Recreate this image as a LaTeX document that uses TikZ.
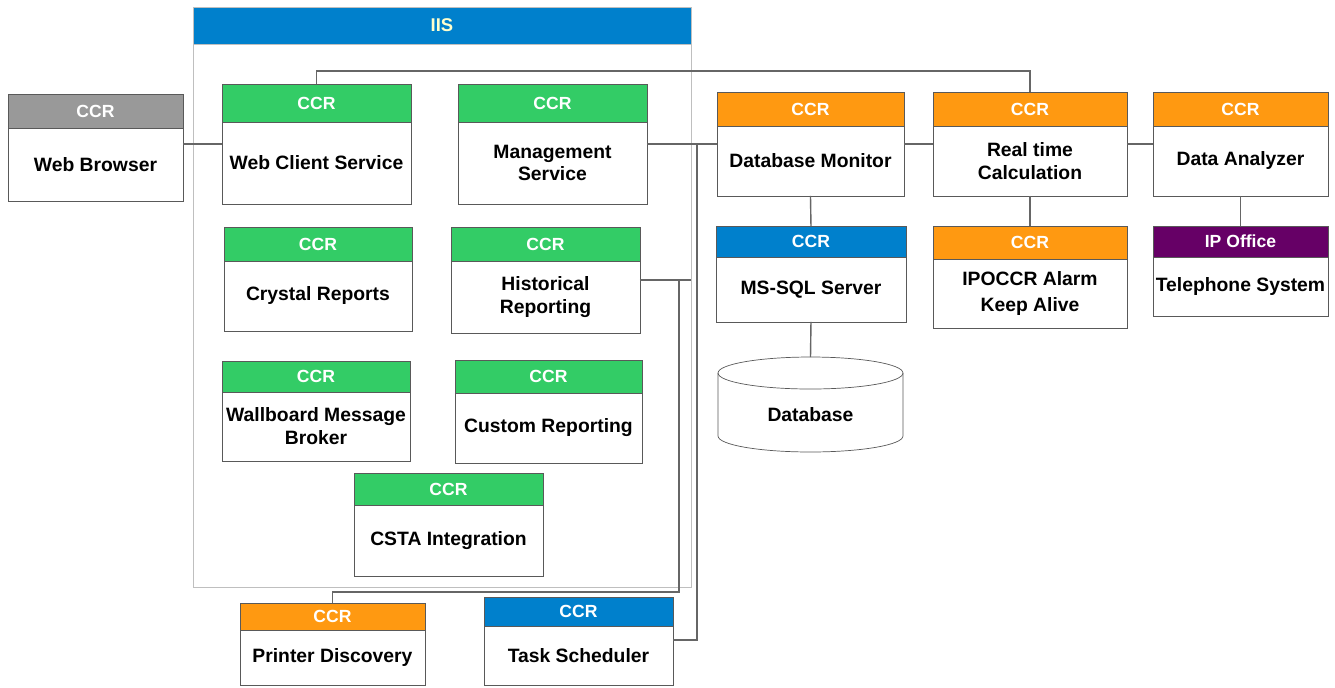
\documentclass[tikz,border=0pt]{standalone}
\usepackage{fontspec}
\setmainfont{Liberation Sans}
\usetikzlibrary{positioning}
\definecolor{ccrgreen}{HTML}{33CC66}
\definecolor{ccrorange}{HTML}{FF9911}
\definecolor{ccrblue}{HTML}{0080CC}
\definecolor{ccrgray}{HTML}{999999}
\definecolor{ccrpurple}{HTML}{660066}
\definecolor{boxgray}{HTML}{595959}
\definecolor{iisgray}{HTML}{BFBFBF}
\definecolor{linkgray}{HTML}{666666}
\definecolor{iistext}{HTML}{FFFFCC}

\begin{document}
\begin{tikzpicture}[
  x=0.02cm, y=-0.02cm,
  head/.style={rectangle, draw=boxgray, text=white, anchor=north west, inner sep=0pt, outer sep=0pt,
    font=\bfseries\fontsize{10}{12}\selectfont},
  body/.style={rectangle, draw=boxgray, fill=white, align=center, inner sep=0pt, outer sep=0pt,
    font=\bfseries\fontsize{11}{13}\selectfont},
  link/.style={draw=linkgray, line width=0.8pt}
]
\useasboundingbox (0,0) rectangle (1335,687);

% IIS frame
\node[head, draw=iisgray, fill=ccrblue, text=iistext, minimum width=9.96cm, minimum height=0.74cm,
  font=\bfseries\fontsize{10.5}{12}\selectfont] (iishead) at (193,7) {IIS};
\node[body, draw=iisgray, minimum width=9.96cm, minimum height=10.86cm, below=0pt of iishead] (iis) {};

% browser
\node[head, fill=ccrgray, minimum width=3.5cm, minimum height=0.68cm] (wbhead) at (8,94) {CCR};
\node[body, minimum width=3.5cm, minimum height=1.46cm, below=0pt of wbhead] (wb) {Web Browser};

% services inside IIS
\node[head, fill=ccrgreen, minimum width=3.78cm, minimum height=0.76cm] (wcshead) at (222,84) {CCR};
\node[body, minimum width=3.78cm, minimum height=1.64cm, below=0pt of wcshead] (wcs) {Web Client Service};

\node[head, fill=ccrgreen, minimum width=3.78cm, minimum height=0.76cm] (mgmthead) at (458,84) {CCR};
\node[body, minimum width=3.78cm, minimum height=1.64cm, below=0pt of mgmthead] (mgmt) {Management\\Service};

\node[head, fill=ccrgreen, minimum width=3.76cm, minimum height=0.68cm] (crhead) at (224,227) {CCR};
\node[body, minimum width=3.76cm, minimum height=1.4cm, below=0pt of crhead] (cr) {Crystal Reports};

\node[head, fill=ccrgreen, minimum width=3.78cm, minimum height=0.68cm] (histhead) at (451,227) {CCR};
\node[body, minimum width=3.78cm, minimum height=1.44cm, below=0pt of histhead] (hist) {Historical\\Reporting};

\node[head, fill=ccrgreen, minimum width=3.76cm, minimum height=0.62cm] (wmbhead) at (222,361) {CCR};
\node[body, minimum width=3.76cm, minimum height=1.38cm, below=0pt of wmbhead] (wmb) {Wallboard Message\\Broker};

\node[head, fill=ccrgreen, minimum width=3.74cm, minimum height=0.66cm] (custhead) at (455,360) {CCR};
\node[body, minimum width=3.74cm, minimum height=1.4cm, below=0pt of custhead] (cust) {Custom Reporting};

\node[head, fill=ccrgreen, minimum width=3.78cm, minimum height=0.64cm] (cstahead) at (354,473) {CCR};
\node[body, minimum width=3.78cm, minimum height=1.42cm, below=0pt of cstahead] (csta) {CSTA Integration};

% below IIS
\node[head, fill=ccrorange, minimum width=3.7cm, minimum height=0.54cm] (prthead) at (240,603) {CCR};
\node[body, minimum width=3.7cm, minimum height=1.1cm, below=0pt of prthead] (prt) {Printer Discovery};

\node[head, fill=ccrblue, minimum width=3.78cm, minimum height=0.58cm] (taskhead) at (484,597) {CCR};
\node[body, minimum width=3.78cm, minimum height=1.18cm, below=0pt of taskhead] (task) {Task Scheduler};

% right hand side
\node[head, fill=ccrorange, minimum width=3.74cm, minimum height=0.68cm] (dbmhead) at (717,92) {CCR};
\node[body, minimum width=3.74cm, minimum height=1.4cm, below=0pt of dbmhead] (dbm) {Database Monitor};

\node[head, fill=ccrorange, minimum width=3.88cm, minimum height=0.68cm] (rtchead) at (933,92) {CCR};
\node[body, minimum width=3.88cm, minimum height=1.4cm, below=0pt of rtchead] (rtc) {Real time\\Calculation};

\node[head, fill=ccrorange, minimum width=3.5cm, minimum height=0.68cm] (danhead) at (1153,92) {CCR};
\node[body, minimum width=3.5cm, minimum height=1.4cm, below=0pt of danhead] (dan) {Data Analyzer};

\node[head, fill=ccrblue, minimum width=3.8cm, minimum height=0.62cm] (sqlhead) at (716,226) {CCR};
\node[body, minimum width=3.8cm, minimum height=1.3cm, below=0pt of sqlhead] (sql) {MS-SQL Server};

\node[head, fill=ccrorange, minimum width=3.88cm, minimum height=0.66cm] (ipohead) at (933,226) {CCR};
\node[body, minimum width=3.88cm, minimum height=1.38cm, below=0pt of ipohead,
  font=\bfseries\fontsize{11}{15}\selectfont] (ipo) {IPOCCR Alarm\\Keep Alive};

\node[head, fill=ccrpurple, minimum width=3.5cm, minimum height=0.62cm] (telhead) at (1153,226) {IP Office};
\node[body, minimum width=3.5cm, minimum height=1.18cm, below=0pt of telhead] (tel) {Telephone System};

% database cylinder
\node[minimum width=3.7cm, minimum height=1.9cm, inner sep=0pt, outer sep=0pt] (db) at (810.5,404.5) {};
\draw[boxgray, fill=white] ([yshift=-0.32cm]db.north west) -- ([yshift=0.32cm]db.south west)
  arc[start angle=180, end angle=360, x radius=1.85cm, y radius=0.32cm]
  -- ([yshift=-0.32cm]db.north east)
  arc[start angle=0, end angle=180, x radius=1.85cm, y radius=0.32cm] -- cycle;
\draw[boxgray] ([yshift=-0.32cm]db.north west)
  arc[start angle=180, end angle=360, x radius=1.85cm, y radius=0.32cm];
\node[font=\bfseries\fontsize{11}{13}\selectfont] (dblabel) at ([yshift=-0.21cm]db.center) {Database};

% connectors
\coordinate (bus) at (0,144);
\coordinate (tap) at (697,144);
\draw[link] (wb.east |- bus) -- (wcs.west |- bus);
\draw[link] (mgmt.east |- bus) -- (dbm.west |- bus);
\draw[link] (dbm.east |- bus) -- (rtc.west |- bus);
\draw[link] (rtc.east |- bus) -- (dan.west |- bus);
\draw[link] (wcshead.north) -- ++(0,-13) -| (rtchead.north);
\draw[link] (dbm.south) -- (sqlhead.north);
\draw[link] (sql.south) -- (db.north);
\draw[link] (rtc.south) -- (ipohead.north);
\draw[link] (dan.south) -- (telhead.north);
\draw[link] (task.east |- 0,640) -| (tap);
\draw[link] (hist.east |- 0,280) -- (iis.east |- 0,280);
\draw[link] (prthead.north) -- ++(0,-11) -| (679,280);
\end{tikzpicture}
\end{document}
